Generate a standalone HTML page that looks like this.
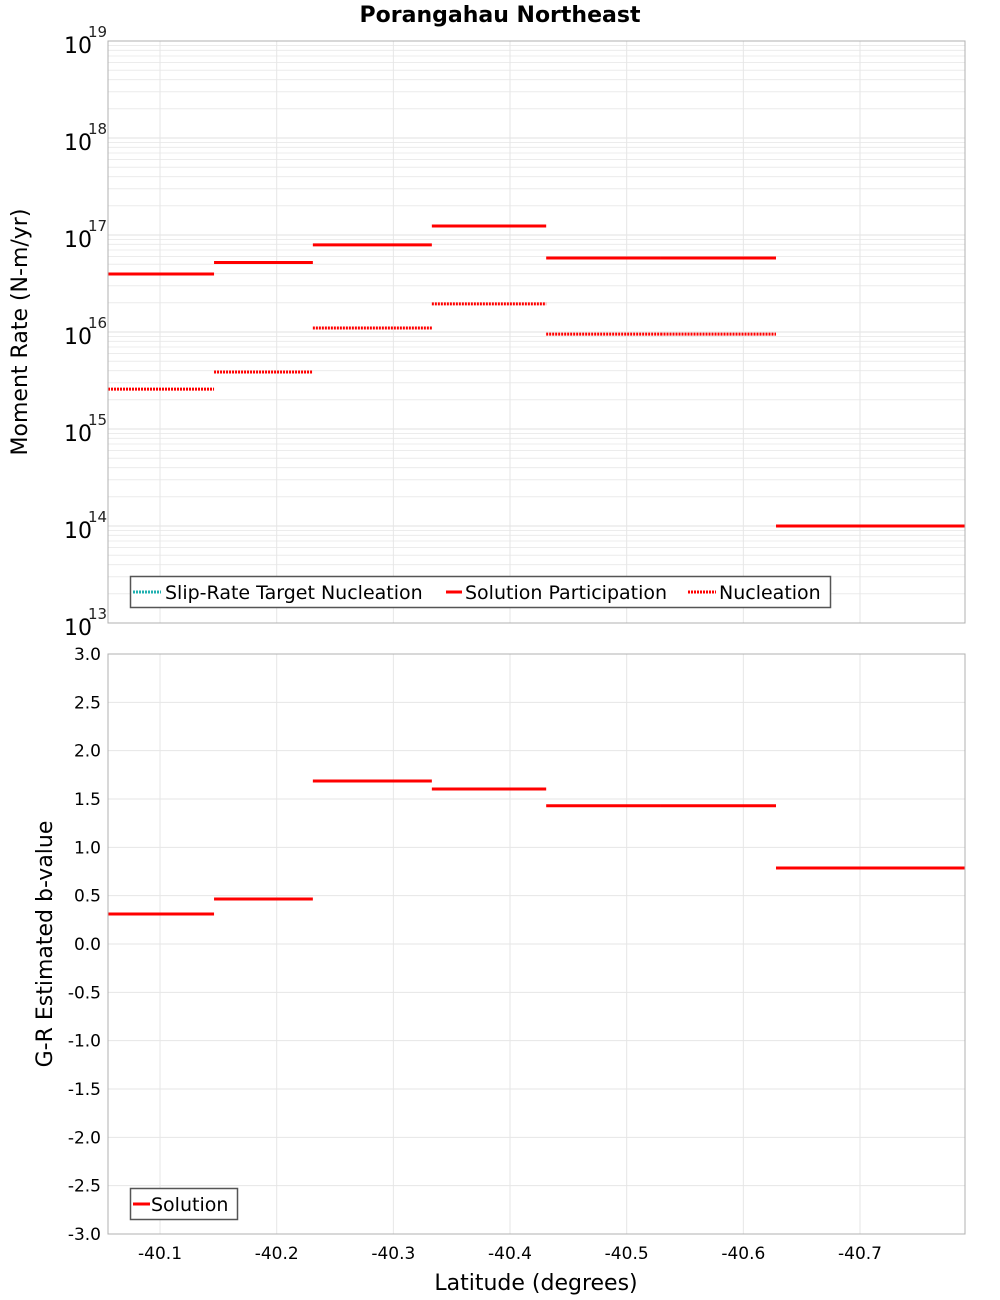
<!DOCTYPE html>
<html><head><meta charset="utf-8"><style>
html,body{margin:0;padding:0;background:#fff;}
svg{display:block;font-family:"DejaVu Sans","Liberation Sans",sans-serif;}
</style></head><body>
<svg id="chart" width="1000" height="1300" xmlns="http://www.w3.org/2000/svg">
<text x="500" y="22" text-anchor="middle" font-size="22" font-weight="bold">Porangahau Northeast</text>
<g id="topG"></g><g id="botG"></g>
<text transform="translate(27,332) rotate(-90)" text-anchor="middle" font-size="22">Moment Rate (N-m/yr)</text>
<text transform="translate(52,944) rotate(-90)" text-anchor="middle" font-size="22">G-R Estimated b-value</text>
<text x="536" y="1290" text-anchor="middle" font-size="22">Latitude (degrees)</text>
</svg>
<script>
const binEdges=[-40.0554,-40.1463,-40.231,-40.333,-40.431,-40.529,-40.628,-40.7,-40.79];
const participation=[3.96e16,5.2e16,7.9e16,1.24e17,5.8e16,5.8e16,1.0e14,1.0e14];
const nucleation=[2.58e15,3.87e15,1.1e16,1.95e16,9.5e15,9.5e15,null,null];
const bValues=[0.31,0.465,1.686,1.603,1.43,1.43,0.786,0.786];
const xTicks=[-40.1,-40.2,-40.3,-40.4,-40.5,-40.6,-40.7];
const logTicks=[13,14,15,16,17,18,19];
const bTicks=[3.0,2.5,2.0,1.5,1.0,0.5,0.0,-0.5,-1.0,-1.5,-2.0,-2.5,-3.0];

const NS="http://www.w3.org/2000/svg";
const L=108,R=965,T1=41,B1=623,T2=654,B2=1234;
const X0=-40.0554,X1=-40.79;
const xs=v=>L+(v-X0)/(X1-X0)*(R-L);
const ys1=v=>B1-(Math.log10(v)-13)/6*(B1-T1);
const ys2=v=>B2-(v+3)/6*(B2-T2);
function mk(tag,attrs,parent){const e=document.createElementNS(NS,tag);for(const k in attrs)e.setAttribute(k,attrs[k]);parent.appendChild(e);return e;}
const topG=document.getElementById('topG'),botG=document.getElementById('botG');

for(let d=13;d<19;d++)for(let m=1;m<10;m++){const y=ys1(m*Math.pow(10,d));
 const g=mk('line',{x1:L,x2:R,y1:y,y2:y,stroke:m==1?'#e0e0e0':'#ececec','stroke-width':1},topG);
 
 }
xTicks.forEach(t=>{const x=xs(t);
 const g=mk('line',{x1:x,x2:x,y1:T1,y2:B1,stroke:'#e6e6e6'},topG);
 
 
 const g2=mk('line',{x1:x,x2:x,y1:T2,y2:B2,stroke:'#e6e6e6'},botG);
 
 
 const tl=mk('text',{x:x,y:1259,'text-anchor':'middle','font-size':17},botG);tl.textContent=t.toFixed(1);
 
 });
logTicks.forEach(d=>{const y=ys1(Math.pow(10,d));
 const t=mk('text',{x:64,y:y+12,'font-size':22},topG);t.textContent='10';
 
 
 const s=mk('text',{x:88,y:y-4,'font-size':15,fill:'#222'},topG);s.textContent=String(d);
 
 });
bTicks.forEach(v=>{const y=ys2(v);
 const g=mk('line',{x1:L,x2:R,y1:y,y2:y,stroke:'#e6e6e6'},botG);
 
 
 const t=mk('text',{x:101,y:y+6,'text-anchor':'end','font-size':17},botG);t.textContent=v.toFixed(1);
 
 });

participation.forEach((v,i)=>{if(v==null)return;const y=ys1(v);
 const l=mk('line',{x1:xs(binEdges[i]),x2:xs(binEdges[i+1]),y1:y,y2:y,stroke:'#ff0000','stroke-width':3},topG);
 
 });
nucleation.forEach((v,i)=>{if(v==null)return;const y=ys1(v);
 const l=mk('line',{x1:xs(binEdges[i]),x2:xs(binEdges[i+1]),y1:y,y2:y,stroke:'#ff0000','stroke-width':3,'stroke-dasharray':'2,1'},topG);
 
 });
bValues.forEach((v,i)=>{const y=ys2(v);
 const l=mk('line',{x1:xs(binEdges[i]),x2:xs(binEdges[i+1]),y1:y,y2:y,stroke:'#ff0000','stroke-width':3},botG);
 
 });

const f1=mk('rect',{x:L,y:T1,width:R-L,height:B1-T1,fill:'none',stroke:'#b0b0b0'},topG);


const f2=mk('rect',{x:L,y:T2,width:R-L,height:B2-T2,fill:'none',stroke:'#b0b0b0'},botG);



const lg=mk('g',{},topG);


mk('rect',{x:130.5,y:576.5,width:700,height:31,fill:'#fff',stroke:'#555','stroke-width':1.5},lg);
mk('line',{x1:133,x2:161,y1:592,y2:592,stroke:'#20b0b0','stroke-width':3,'stroke-dasharray':'2,1'},lg);
let t=mk('text',{x:165,y:599,'font-size':19},lg);t.textContent='Slip-Rate Target Nucleation';
mk('line',{x1:446,x2:462,y1:592,y2:592,stroke:'#ff0000','stroke-width':3},lg);
t=mk('text',{x:465,y:599,'font-size':19},lg);t.textContent='Solution Participation';
mk('line',{x1:688,x2:716,y1:592,y2:592,stroke:'#ff0000','stroke-width':3,'stroke-dasharray':'2,1'},lg);
t=mk('text',{x:719,y:599,'font-size':19},lg);t.textContent='Nucleation';
const lg2=mk('g',{},botG);


mk('rect',{x:130.5,y:1188.5,width:107,height:31,fill:'#fff',stroke:'#555','stroke-width':1.5},lg2);
mk('line',{x1:133,x2:150,y1:1204,y2:1204,stroke:'#ff0000','stroke-width':3},lg2);
t=mk('text',{x:151,y:1211,'font-size':19},lg2);t.textContent='Solution';
</script>
</body></html>
